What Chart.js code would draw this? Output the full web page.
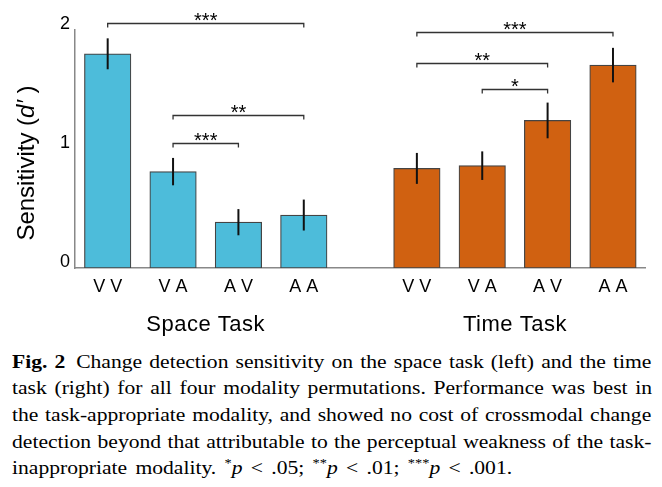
<!DOCTYPE html>
<html>
<head>
<meta charset="utf-8">
<script src="https://cdn.jsdelivr.net/npm/chart.js@4.4.0/dist/chart.umd.min.js"></script>
<style>
html,body{margin:0;padding:0;background:#fff;}
#wrap{position:relative;width:662px;height:487px;overflow:hidden;background:#fff;}
#chart{position:absolute;left:0;top:0;}
#cap{position:absolute;left:12px;top:348.6px;width:533px;transform:scaleX(1.2);transform-origin:0 0;font-family:"Liberation Serif","Times New Roman",serif;font-size:18px;line-height:26.7px;color:#000;}
#cap div{white-space:nowrap;}
#cap .last span{word-spacing:2.4px;}
#cap .s{position:relative;top:-7px;font-size:12px;word-spacing:0;}
</style>
</head>
<body>
<div id="wrap">
<canvas id="chart" width="662" height="345"></canvas>
<div id="cap">
<div class="j"><span><b>Fig. 2</b>&ensp;Change detection sensitivity on the space task (left) and the time</span></div>
<div class="j"><span>task (right) for all four modality permutations. Performance was best in</span></div>
<div class="j"><span>the task-appropriate modality, and showed no cost of crossmodal change</span></div>
<div class="j"><span>detection beyond that attributable to the perceptual weakness of the task-</span></div>
<div class="last"><span>inappropriate modality. <span class="s">*</span><i>p</i> &lt; .05; <span class="s">**</span><i>p</i> &lt; .01; <span class="s">***</span><i>p</i> &lt; .001.</span></div>
</div>
</div>
<script>
// ---- data ----
const categories = ['V V', 'V A', 'A V', 'A A'];
const groupTitles = ['Space Task', 'Time Task'];
const spaceMeans = [1.80, 0.81, 0.385, 0.445];
const spaceErrors = [0.13, 0.115, 0.11, 0.13];
const timeMeans = [0.837, 0.86, 1.24, 1.705];
const timeErrors = [0.13, 0.12, 0.15, 0.145];
const yTicks = [0, 1, 2];
// significance comparisons: [from index, to index, stars]
const spaceSig = [[0, 3, '***'], [1, 3, '**'], [1, 2, '***']];
const timeSig = [[0, 3, '***'], [0, 2, '**'], [1, 2, '*']];

// ---- layout ----
const GROUP_GAP = 1.73;
const spaceX = categories.map((c, i) => i + 1);
const timeX = categories.map((c, i) => i + categories.length + GROUP_GAP);
const spaceBracketY = [2.056, 1.287, 1.054];
const timeBracketY = [1.981, 1.726, 1.502];
const SANS = '"Liberation Sans", Arial, Helvetica, sans-serif';

// justify caption lines by word spacing
document.querySelectorAll('#cap .j').forEach(line => {
  const span = line.firstElementChild;
  const w = span.offsetWidth;
  const n = (span.textContent.match(/ /g) || []).length;
  if (n) span.style.wordSpacing = ((533 - w) / n) + 'px';
});

const allX = spaceX.concat(timeX);
const allLabels = categories.concat(categories);

const groups = [
  {x: spaceX, sig: spaceSig, by: spaceBracketY, title: groupTitles[0]},
  {x: timeX, sig: timeSig, by: timeBracketY, title: groupTitles[1]}
];

const overlay = {
  id: 'overlay',
  afterDatasetsDraw(chart) {
    const {ctx, scales: {x, y}} = chart;
    ctx.save();
    // error bars
    ctx.strokeStyle = '#111';
    ctx.lineWidth = 2;
    chart.data.datasets.forEach(ds => {
      ds.data.forEach((pt, i) => {
        const px = x.getPixelForValue(pt.x);
        ctx.beginPath();
        ctx.moveTo(px, y.getPixelForValue(pt.y + ds.errors[i]));
        ctx.lineTo(px, y.getPixelForValue(pt.y - ds.errors[i]));
        ctx.stroke();
      });
    });
    // significance brackets
    ctx.lineWidth = 1.3;
    ctx.strokeStyle = '#333';
    ctx.fillStyle = '#000';
    ctx.font = '20px ' + SANS;
    ctx.textAlign = 'center';
    ctx.textBaseline = 'alphabetic';
    groups.forEach(g => {
      g.sig.forEach((s, k) => {
        const x1 = x.getPixelForValue(g.x[s[0]]);
        const x2 = x.getPixelForValue(g.x[s[1]]);
        const py = Math.round(y.getPixelForValue(g.by[k])) + 0.5;
        ctx.beginPath();
        ctx.moveTo(x1, py + 4);
        ctx.lineTo(x1, py);
        ctx.lineTo(x2, py);
        ctx.lineTo(x2, py + 4);
        ctx.stroke();
        const m = ctx.measureText(s[2]);
        const target = py - 6.3;
        const base = target - (m.actualBoundingBoxDescent - m.actualBoundingBoxAscent) / 2;
        ctx.fillText(s[2], (x1 + x2) / 2, base);
      });
    });
    ctx.restore();
  },
  afterDraw(chart) {
    const {ctx, scales: {x}} = chart;
    ctx.save();
    ctx.fillStyle = '#000';
    // group titles
    ctx.font = '22px ' + SANS;
    ctx.letterSpacing = '0.5px';
    ctx.textAlign = 'center';
    ctx.textBaseline = 'alphabetic';
    groups.forEach(g => {
      const mid = (g.x[0] + g.x[g.x.length - 1]) / 2;
      ctx.fillText(g.title, x.getPixelForValue(mid), 330.5);
    });
    ctx.letterSpacing = '0px';
    // y axis title: Sensitivity (d′)
    const reg = '24px ' + SANS;
    const ita = 'italic 24px ' + SANS;
    const parts = [['Sensitivity (', reg], ['d\u2032', ita], [' )', reg]];
    let W = 0;
    parts.forEach(p => { ctx.font = p[1]; W += ctx.measureText(p[0]).width; });
    ctx.translate(34, 163);
    ctx.rotate(-Math.PI / 2);
    ctx.textAlign = 'left';
    let cx = -W / 2;
    parts.forEach(p => {
      ctx.font = p[1];
      ctx.fillText(p[0], cx, 0);
      cx += ctx.measureText(p[0]).width;
    });
    ctx.restore();
  }
};

new Chart(document.getElementById('chart'), {
  type: 'bar',
  data: {
    datasets: [
      {
        label: groupTitles[0],
        data: spaceMeans.map((v, i) => ({x: spaceX[i], y: v})),
        errors: spaceErrors,
        backgroundColor: '#4dbcda',
        borderColor: '#444',
        borderWidth: 1.2,
        borderSkipped: false,
        grouped: false,
        barThickness: 46.5
      },
      {
        label: groupTitles[1],
        data: timeMeans.map((v, i) => ({x: timeX[i], y: v})),
        errors: timeErrors,
        backgroundColor: '#d06111',
        borderColor: '#444',
        borderWidth: 1.2,
        borderSkipped: false,
        grouped: false,
        barThickness: 46.5
      }
    ]
  },
  options: {
    responsive: false,
    animation: false,
    layout: {padding: {left: 0, right: 17, top: 30, bottom: 0}},
    plugins: {legend: {display: false}, tooltip: {enabled: false}},
    scales: {
      x: {
        type: 'linear',
        offset: false,
        min: 0.5,
        max: 9.22,
        afterBuildTicks(s) { s.ticks = allX.map(v => ({value: v})); },
        afterFit(s) { s.height = 77; },
        ticks: {
          callback: (v, i) => allLabels[i],
          autoSkip: false,
          maxRotation: 0,
          padding: 8,
          color: '#000',
          font: {family: SANS, size: 18}
        },
        grid: {display: false, drawTicks: false, offset: false},
        border: {display: true, color: '#888', width: 1.5}
      },
      y: {
        type: 'linear',
        min: 0,
        max: 2,
        afterBuildTicks(s) { s.ticks = yTicks.map(v => ({value: v})); },
        afterFit(s) { s.width = 75; },
        ticks: {
          padding: 5,
          labelOffset: -6,
          color: '#000',
          font: {family: SANS, size: 18}
        },
        grid: {display: false, drawTicks: false},
        border: {display: true, color: '#888', width: 1.5}
      }
    }
  },
  plugins: [overlay]
});
</script>
</body>
</html>
